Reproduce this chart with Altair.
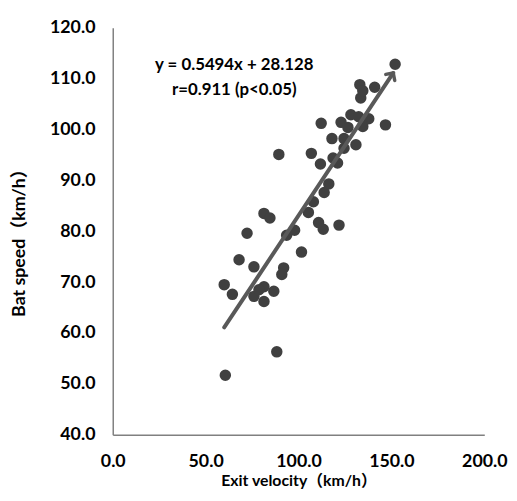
import altair as alt
import pandas as pd

exit_velocity = [60.6, 88.3, 60.0, 64.4, 68.0, 76.0, 81.4, 76.0, 81.4, 86.7,
                 78.7, 92.0, 91.0, 101.6, 72.3, 81.4, 84.6, 93.6, 97.9, 105.3,
                 108.0, 110.8, 113.3, 121.8, 113.8, 116.3, 89.4, 106.9, 111.8, 118.6,
                 121.0, 124.5, 130.9, 118.0, 124.5, 112.2, 122.9, 126.6, 128.2, 132.4,
                 137.8, 134.6, 146.8, 133.5, 133.0, 134.6, 141.0, 152.0]
bat_speed = [51.7, 56.3, 69.5, 67.6, 74.4, 73.0, 69.1, 67.2, 66.2, 68.2,
             68.5, 72.8, 71.5, 75.9, 79.6, 83.5, 82.6, 79.2, 80.2, 83.7,
             85.8, 81.7, 80.4, 81.2, 87.6, 89.3, 95.1, 95.3, 93.2, 94.4,
             93.4, 96.3, 97.0, 98.2, 98.2, 101.2, 101.4, 100.4, 102.9, 102.5,
             102.1, 100.6, 100.9, 106.2, 108.8, 107.6, 108.3, 112.8]

trend_x = [60.0, 151.0]
trend_y = [61.1, 111.1]

ann_lines = ["y = 0.5494x + 28.128", "r=0.911 (p<0.05)"]
ann_x = [65.4, 65.4]
ann_y = [112.6, 107.8]

FONT = "Lato, Noto Sans CJK SC, sans-serif"

pts = pd.DataFrame({"x": exit_velocity, "y": bat_speed})
trend = pd.DataFrame({"x": trend_x, "y": trend_y})
arrow = pd.DataFrame({"x": trend_x[-1:], "y": trend_y[-1:]})
ann = pd.DataFrame({"x": ann_x, "y": ann_y, "t": ann_lines})

xs = alt.Scale(domain=[0, 200], nice=False)
ys = alt.Scale(domain=[40, 120], nice=False)

xaxis = alt.Axis(values=[0, 50, 100, 150, 200], format=".1f", grid=False, ticks=False,
                 domainColor="#808080", domainWidth=1.5, labelPadding=18, labelFlush=False,
                 labelOverlap=False,
                 labelFont=FONT, labelFontSize=18, labelFontWeight="bold", labelColor="#000",
                 title="Exit velocity（km/h）", titleFont=FONT, titleFontSize=16,
                 titleFontWeight="bold", titleColor="#000", titleBaseline="top",
                 titleY=38, titleX=188)
yaxis = alt.Axis(values=list(range(40, 121, 10)), format=".1f", grid=False, ticks=False,
                 domainColor="#808080", domainWidth=1.5, labelPadding=18, labelFlush=False,
                 labelOverlap=False,
                 labelFont=FONT, labelFontSize=18, labelFontWeight="bold", labelColor="#000",
                 title="Bat speed（km/h）", titleFont=FONT, titleFontSize=18,
                 titleFontWeight="bold", titleColor="#000", titleAngle=-90,
                 titleBaseline="middle", titleX=-94, titleY=213)

points = alt.Chart(pts).mark_circle(size=135, color="#404040", opacity=1).encode(
    x=alt.X("x:Q", scale=xs, axis=xaxis),
    y=alt.Y("y:Q", scale=ys, axis=yaxis),
)

line = alt.Chart(trend).mark_line(color="#595959", strokeWidth=4, strokeCap="round").encode(
    x=alt.X("x:Q", scale=xs), y=alt.Y("y:Q", scale=ys)
)

head = alt.Chart(arrow).mark_point(shape="M -1 1 L 0 0 L 1 1", size=120, filled=False,
                                   stroke="#595959", strokeWidth=3.5, angle=34,
                                   strokeCap="round", strokeJoin="round", opacity=1).encode(
    x=alt.X("x:Q", scale=xs), y=alt.Y("y:Q", scale=ys)
)

text = alt.Chart(ann).mark_text(font=FONT, fontSize=17, fontWeight="bold", color="#000",
                                align="center", baseline="middle").encode(
    x=alt.X("x:Q", scale=xs), y=alt.Y("y:Q", scale=ys), text="t:N"
)

chart = (points + line + head + text).properties(
    width=376, height=412, autosize="none", background="white",
    padding={"left": 106, "top": 17, "right": 25, "bottom": 56},
).configure_view(stroke=None)

chart.save("out.html", embed_options={"renderer": "svg", "actions": False})
